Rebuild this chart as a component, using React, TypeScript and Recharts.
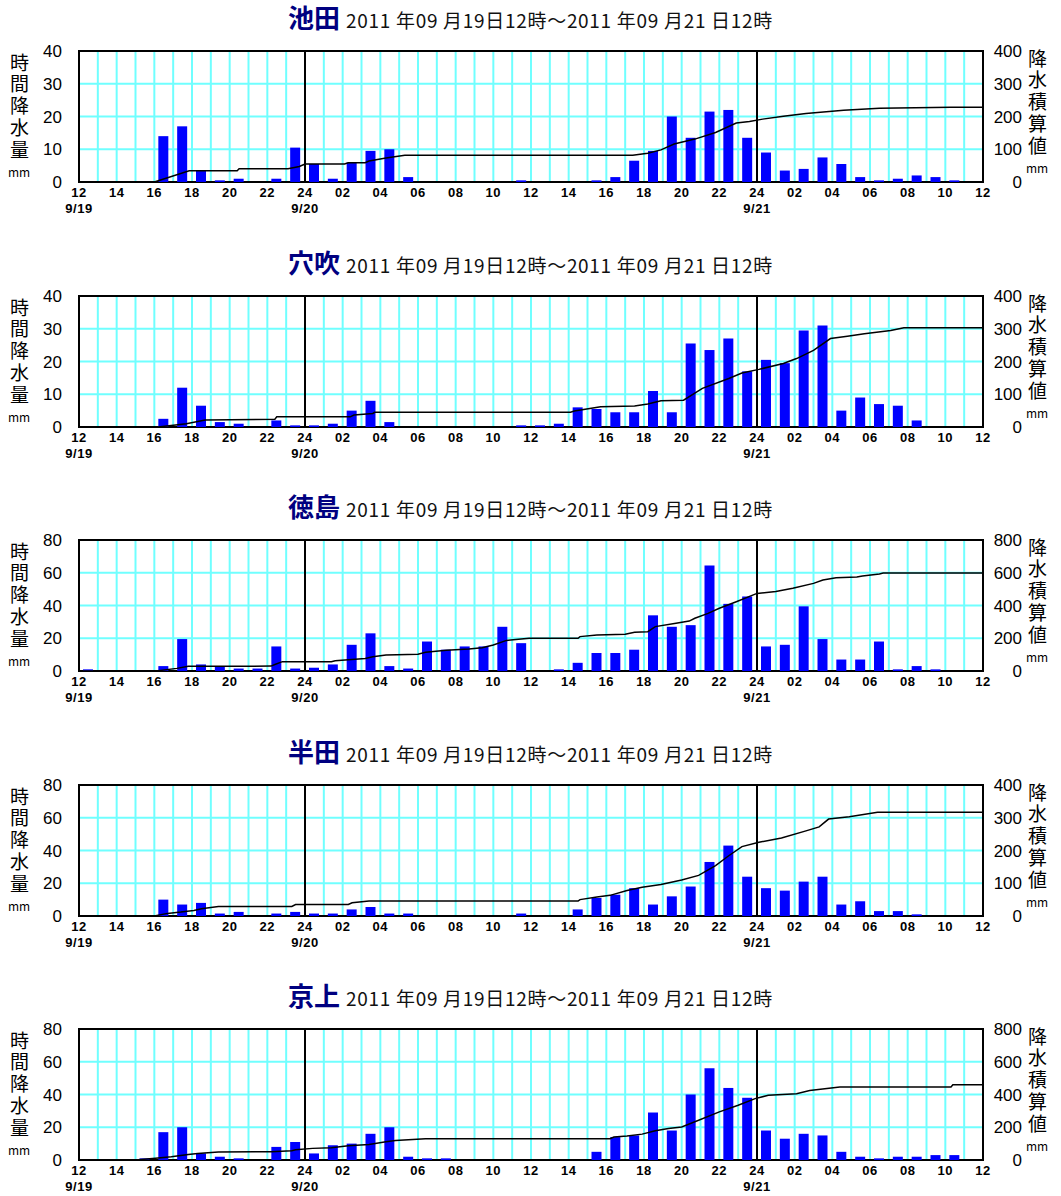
import React from "react"
import { ComposedChart, Bar, Line, XAxis, YAxis, CartesianGrid, ReferenceLine, ReferenceArea } from "recharts"

const stations = ["池田", "穴吹", "徳島", "半田", "京上"]
const periodText = "2011 年09 月19日12時～2011 年09 月21 日12時"

// x tick labels every 2 hours from 9/19 12時 to 9/21 12時
const hourLabels = [
  "12", "14", "16", "18", "20", "22", "24", "02", "04", "06", "08", "10",
  "12", "14", "16", "18", "20", "22", "24", "02", "04", "06", "08", "10", "12",
]
const dateLabels = ["9/19", "9/20", "9/21"]
const dateHours = [0, 12, 36]
const midnightHours = [12, 36]

// hourly rainfall (mm), 48 slots starting 9/19 12時
const ikedaRain = [
  0, 0, 0, 0, 14, 17, 3.5, 0.5, 1, 0, 1, 10.5, 5.5, 1, 6, 9.5, 10, 1.5, 0, 0, 0, 0, 0, 0.5,
  0, 0, 0, 0.5, 1.5, 6.5, 9.5, 20, 13.5, 21.5, 22, 13.5, 9, 3.5, 4, 7.5, 5.5, 1.5, 0.5, 1, 2, 1.5, 0.5, 0,
]
const anabukiRain = [
  0, 0, 0, 0, 2.5, 12, 6.5, 1.5, 1, 0, 2, 0.5, 0.5, 1, 5, 8, 1.5, 0, 0, 0, 0, 0, 0, 0.5,
  0.5, 1, 6, 5.5, 4.5, 4.5, 11, 4.5, 25.5, 23.5, 27, 17, 20.5, 19.5, 29.5, 31, 5, 9, 7, 6.5, 2, 0, 0, 0,
]
const tokushimaRain = [
  1, 0, 0, 0, 3, 19.5, 4, 3, 1.5, 1.5, 15, 1.5, 2, 4, 16, 23, 3, 1.5, 18, 13, 15, 15, 27, 17,
  0, 1, 5, 11, 11, 13, 34, 27, 28, 64.5, 41, 45.5, 15, 16, 39.5, 19.5, 7, 7, 18, 1, 3, 1, 0, 0,
]
const handaRain = [
  0, 0, 0, 0, 10, 7, 8, 1.5, 2.5, 0, 1.5, 2.5, 1.5, 1.5, 4, 5.5, 1.5, 1.5, 0, 0, 0, 0, 0, 1.5,
  0, 0, 4, 11, 13, 17, 7, 12, 18, 33, 43, 24, 17, 15.5, 21, 24, 7, 9, 3, 3, 1, 0, 0, 0,
]
const kyojoRain = [
  0, 0, 0, 1, 17, 20, 4, 2, 1, 0, 8, 11, 4, 9, 10, 16, 20, 2, 1, 1, 0, 0, 0, 0,
  0, 0, 0, 5, 14, 15, 29, 18, 40, 56, 44, 38, 18, 13, 16, 15, 5, 2, 1, 2, 2, 3, 3, 0,
]

// accumulated rainfall (mm) read at breakpoints of the line, hours since 9/19 12時
const ikedaCumHour = [4, 5.85, 8.4, 8.5, 11.1, 11.7, 12, 14.1, 14.3, 15.2, 15.4, 16.3, 17.3, 29.4, 30.2, 30.9, 31.6, 32.7, 33.8, 34.9, 35.6, 36.3, 37.4, 38.6, 40.6, 42.5, 46.3, 48]
const ikedaCumTotal = [0, 34.5, 34.5, 40.5, 40.5, 47.5, 55, 55, 59, 59, 64, 73, 82, 82, 88, 98, 116, 131, 151, 180, 185, 192, 201, 209, 219, 225, 228, 228]
const anabukiCumHour = [4.2, 5.7, 6.7, 10.4, 10.5, 14.4, 14.6, 15.6, 15.7, 26.1, 26.3, 27.7, 29.5, 30.2, 30.9, 32.1, 33.1, 34.5, 35.2, 36.1, 37.4, 38.1, 39, 39.9, 40.8, 41.7, 43.1, 43.8, 48]
const anabukiCumTotal = [0, 10, 21, 24, 31, 31, 36.5, 41.5, 45, 45, 49, 62, 64, 70, 80, 82, 118, 148, 165, 176, 194, 209, 234, 270, 277, 285, 295, 303, 303]
const tokushimaCumHour = [0, 4.2, 5.2, 5.8, 10.2, 10.4, 10.8, 13.4, 13.6, 15.2, 15.6, 16.3, 18, 18.4, 19.5, 20.7, 21.4, 22, 22.7, 23.9, 26.5, 26.6, 27.5, 29, 29.5, 30.2, 30.6, 31.7, 32.4, 32.7, 33.4, 34, 34.9, 36, 37, 37.9, 39, 39.5, 40.2, 41.3, 41.6, 42.5, 42.7, 48]
const tokushimaCumTotal = [0, 2, 16, 28.5, 30, 40, 57, 57, 63, 77, 87.5, 98, 102, 114, 126, 134, 142, 159, 187, 200, 200, 210, 220, 224, 236, 240, 271, 291, 305, 322, 352, 383, 423, 474, 485, 505, 535, 556, 570, 574, 580, 592, 598, 598]
const handaCumHour = [4, 4.7, 5.4, 6.1, 6.5, 7.4, 11.3, 11.5, 14.3, 14.5, 15.4, 26.5, 26.6, 27.5, 28.2, 29.1, 29.9, 30.9, 32, 32.9, 33.8, 34.5, 35.2, 36.1, 37.3, 38.6, 39.3, 39.8, 40.9, 42.4, 48]
const handaCumTotal = [0, 8, 12, 17, 22, 29, 29, 35, 35, 40.5, 45.5, 45.5, 50, 58, 63, 78, 88, 96, 110, 124, 154, 184, 212, 225, 238, 260, 272, 296, 303, 317, 317]
const kyojoCumHour = [3, 4.2, 4.9, 5.8, 6.3, 7.4, 10.2, 11.3, 11.5, 12.4, 13.4, 14.3, 15.4, 16.3, 16.8, 18.4, 28.2, 28.4, 29.1, 29.9, 30.6, 31.3, 32, 32.9, 34, 35, 35.9, 36.6, 38.1, 38.8, 40.4, 46.3, 46.4, 48]
const kyojoCumTotal = [0, 12, 20, 34, 40, 49, 51, 57, 63, 71, 75, 87, 95, 111, 119, 130, 130, 140, 146, 158, 178, 192, 202, 243, 294, 334, 375, 395, 405, 425, 446, 446, 460, 460]

const leftMaxes = [40, 40, 80, 80, 80]
const rightMaxes = [400, 400, 800, 400, 800]
const panelTops = [0, 245, 489, 734, 978]

const panels = [
  { rain: ikedaRain, cumHour: ikedaCumHour, cumTotal: ikedaCumTotal },
  { rain: anabukiRain, cumHour: anabukiCumHour, cumTotal: anabukiCumTotal },
  { rain: tokushimaRain, cumHour: tokushimaCumHour, cumTotal: tokushimaCumTotal },
  { rain: handaRain, cumHour: handaCumHour, cumTotal: handaCumTotal },
  { rain: kyojoRain, cumHour: kyojoCumHour, cumTotal: kyojoCumTotal },
]

const gridHours = Array.from({ length: 49 }, (_, i) => i)
const quarterSteps = [0, 1, 2, 3, 4]

const cjk = '"Noto Sans CJK JP", sans-serif'
const latin = '"Liberation Sans", Arial, sans-serif'

const HourTick = (props: any) => {
  const { x, y, payload } = props
  const h = payload.value
  const label = h % 2 === 0 ? hourLabels[h / 2] : null
  const di = dateHours.indexOf(h)
  return (
    <g>
      {label && (
        <text x={x} y={y + 15} textAnchor="middle" fontSize={13} fontWeight="bold" fontFamily={latin} fill="#000" letterSpacing={0.5}>
          {label}
        </text>
      )}
      {di >= 0 && (
        <text x={x} y={y + 31} textAnchor="middle" fontSize={13} fontWeight="bold" fontFamily={latin} fill="#000" letterSpacing={0.5}>
          {dateLabels[di]}
        </text>
      )}
    </g>
  )
}

const RightTick = (props: any) => {
  const { x, y, payload } = props
  return (
    <text x={x + 39} y={y} dy="0.36em" textAnchor="end" fontSize={17} fontFamily={latin} fill="#000">
      {payload.value}
    </text>
  )
}

function AxisTitle({ chars, left, top }: { chars: string; left: number; top: number }) {
  return (
    <div style={{ position: "absolute", left, top, width: 22, fontFamily: cjk, color: "#000" }}>
      <div style={{ writingMode: "vertical-rl", fontSize: 19, letterSpacing: "2.7px", lineHeight: "22px", width: 22, height: 110 }}>
        {chars}
      </div>
      <div style={{ fontSize: 12, lineHeight: "14px", textAlign: "center", marginTop: 2 }}>mm</div>
    </div>
  )
}

function Panel({ idx }: { idx: number }) {
  const p = panels[idx]
  const leftMax = leftMaxes[idx]
  const rightMax = rightMaxes[idx]
  const barData = p.rain.map((v, i) => ({ slot: i, rain: v }))
  const lineData = p.cumHour.map((h, i) => ({ hour: h, total: p.cumTotal[i] }))
  const leftTicks = quarterSteps.map((k) => (k * leftMax) / 4)
  const rightTicks = quarterSteps.map((k) => (k * rightMax) / 4)

  return (
    <div style={{ position: "absolute", top: panelTops[idx], left: 0, width: 1061, height: 244 }}>
      <div style={{ position: "absolute", top: 0, left: 0, width: 1061, textAlign: "center", fontFamily: cjk, lineHeight: "34px", whiteSpace: "nowrap" }}>
        <span style={{ fontSize: 26, fontWeight: "bold", color: "#000080" }}>{stations[idx]}</span>
        <span style={{ fontSize: 19, color: "#111", marginLeft: 6, letterSpacing: "0.7px" }}>{periodText}</span>
      </div>
      <AxisTitle chars="時間降水量" left={8} top={53} />
      <AxisTitle chars="降水積算値" left={1026} top={49} />
      <div style={{ position: "absolute", top: 0, left: 0 }}>
        <ComposedChart width={1061} height={244} data={barData} margin={{ top: 51, right: 0, bottom: 0, left: 0 }}>
          <CartesianGrid yAxisId="left" stroke="#70ffff" strokeWidth={2} />
          <XAxis
            type="number"
            dataKey="hour"
            domain={[0, 48]}
            ticks={gridHours}
            interval={0}
            allowDataOverflow
            height={62}
            axisLine={false}
            tickLine={false}
            tickSize={0}
            tickMargin={0}
            tick={<HourTick />}
          />
          <XAxis xAxisId="slot" type="category" dataKey="slot" hide />
          <YAxis
            yAxisId="left"
            domain={[0, leftMax]}
            ticks={leftTicks}
            width={79}
            axisLine={false}
            tickLine={false}
            tickSize={0}
            tickMargin={17}
            tick={{ fontSize: 17, fill: "#000", fontFamily: latin }}
          />
          <YAxis
            yAxisId="right"
            orientation="right"
            domain={[0, rightMax]}
            ticks={rightTicks}
            width={78}
            axisLine={false}
            tickLine={false}
            tickSize={0}
            tickMargin={0}
            tick={<RightTick />}
          />
          {midnightHours.map((h) => (
            <ReferenceLine key={h} yAxisId="left" x={h} stroke="#000" strokeWidth={2} />
          ))}
          <Bar xAxisId="slot" yAxisId="left" dataKey="rain" fill="#0000ff" barSize={10} isAnimationActive={false} />
          <Line
            yAxisId="right"
            data={lineData}
            dataKey="total"
            type="linear"
            stroke="#000"
            strokeWidth={1.5}
            dot={false}
            activeDot={false}
            isAnimationActive={false}
          />
          <ReferenceArea yAxisId="left" x1={0} x2={48} y1={0} y2={leftMax} fill="none" stroke="#000" strokeWidth={2} />
        </ComposedChart>
      </div>
    </div>
  )
}

export default function App() {
  return (
    <div style={{ position: "absolute", top: 0, left: 0, width: 1061, height: 1196, background: "#fff" }}>
      {panels.map((_, i) => (
        <Panel key={i} idx={i} />
      ))}
    </div>
  )
}
